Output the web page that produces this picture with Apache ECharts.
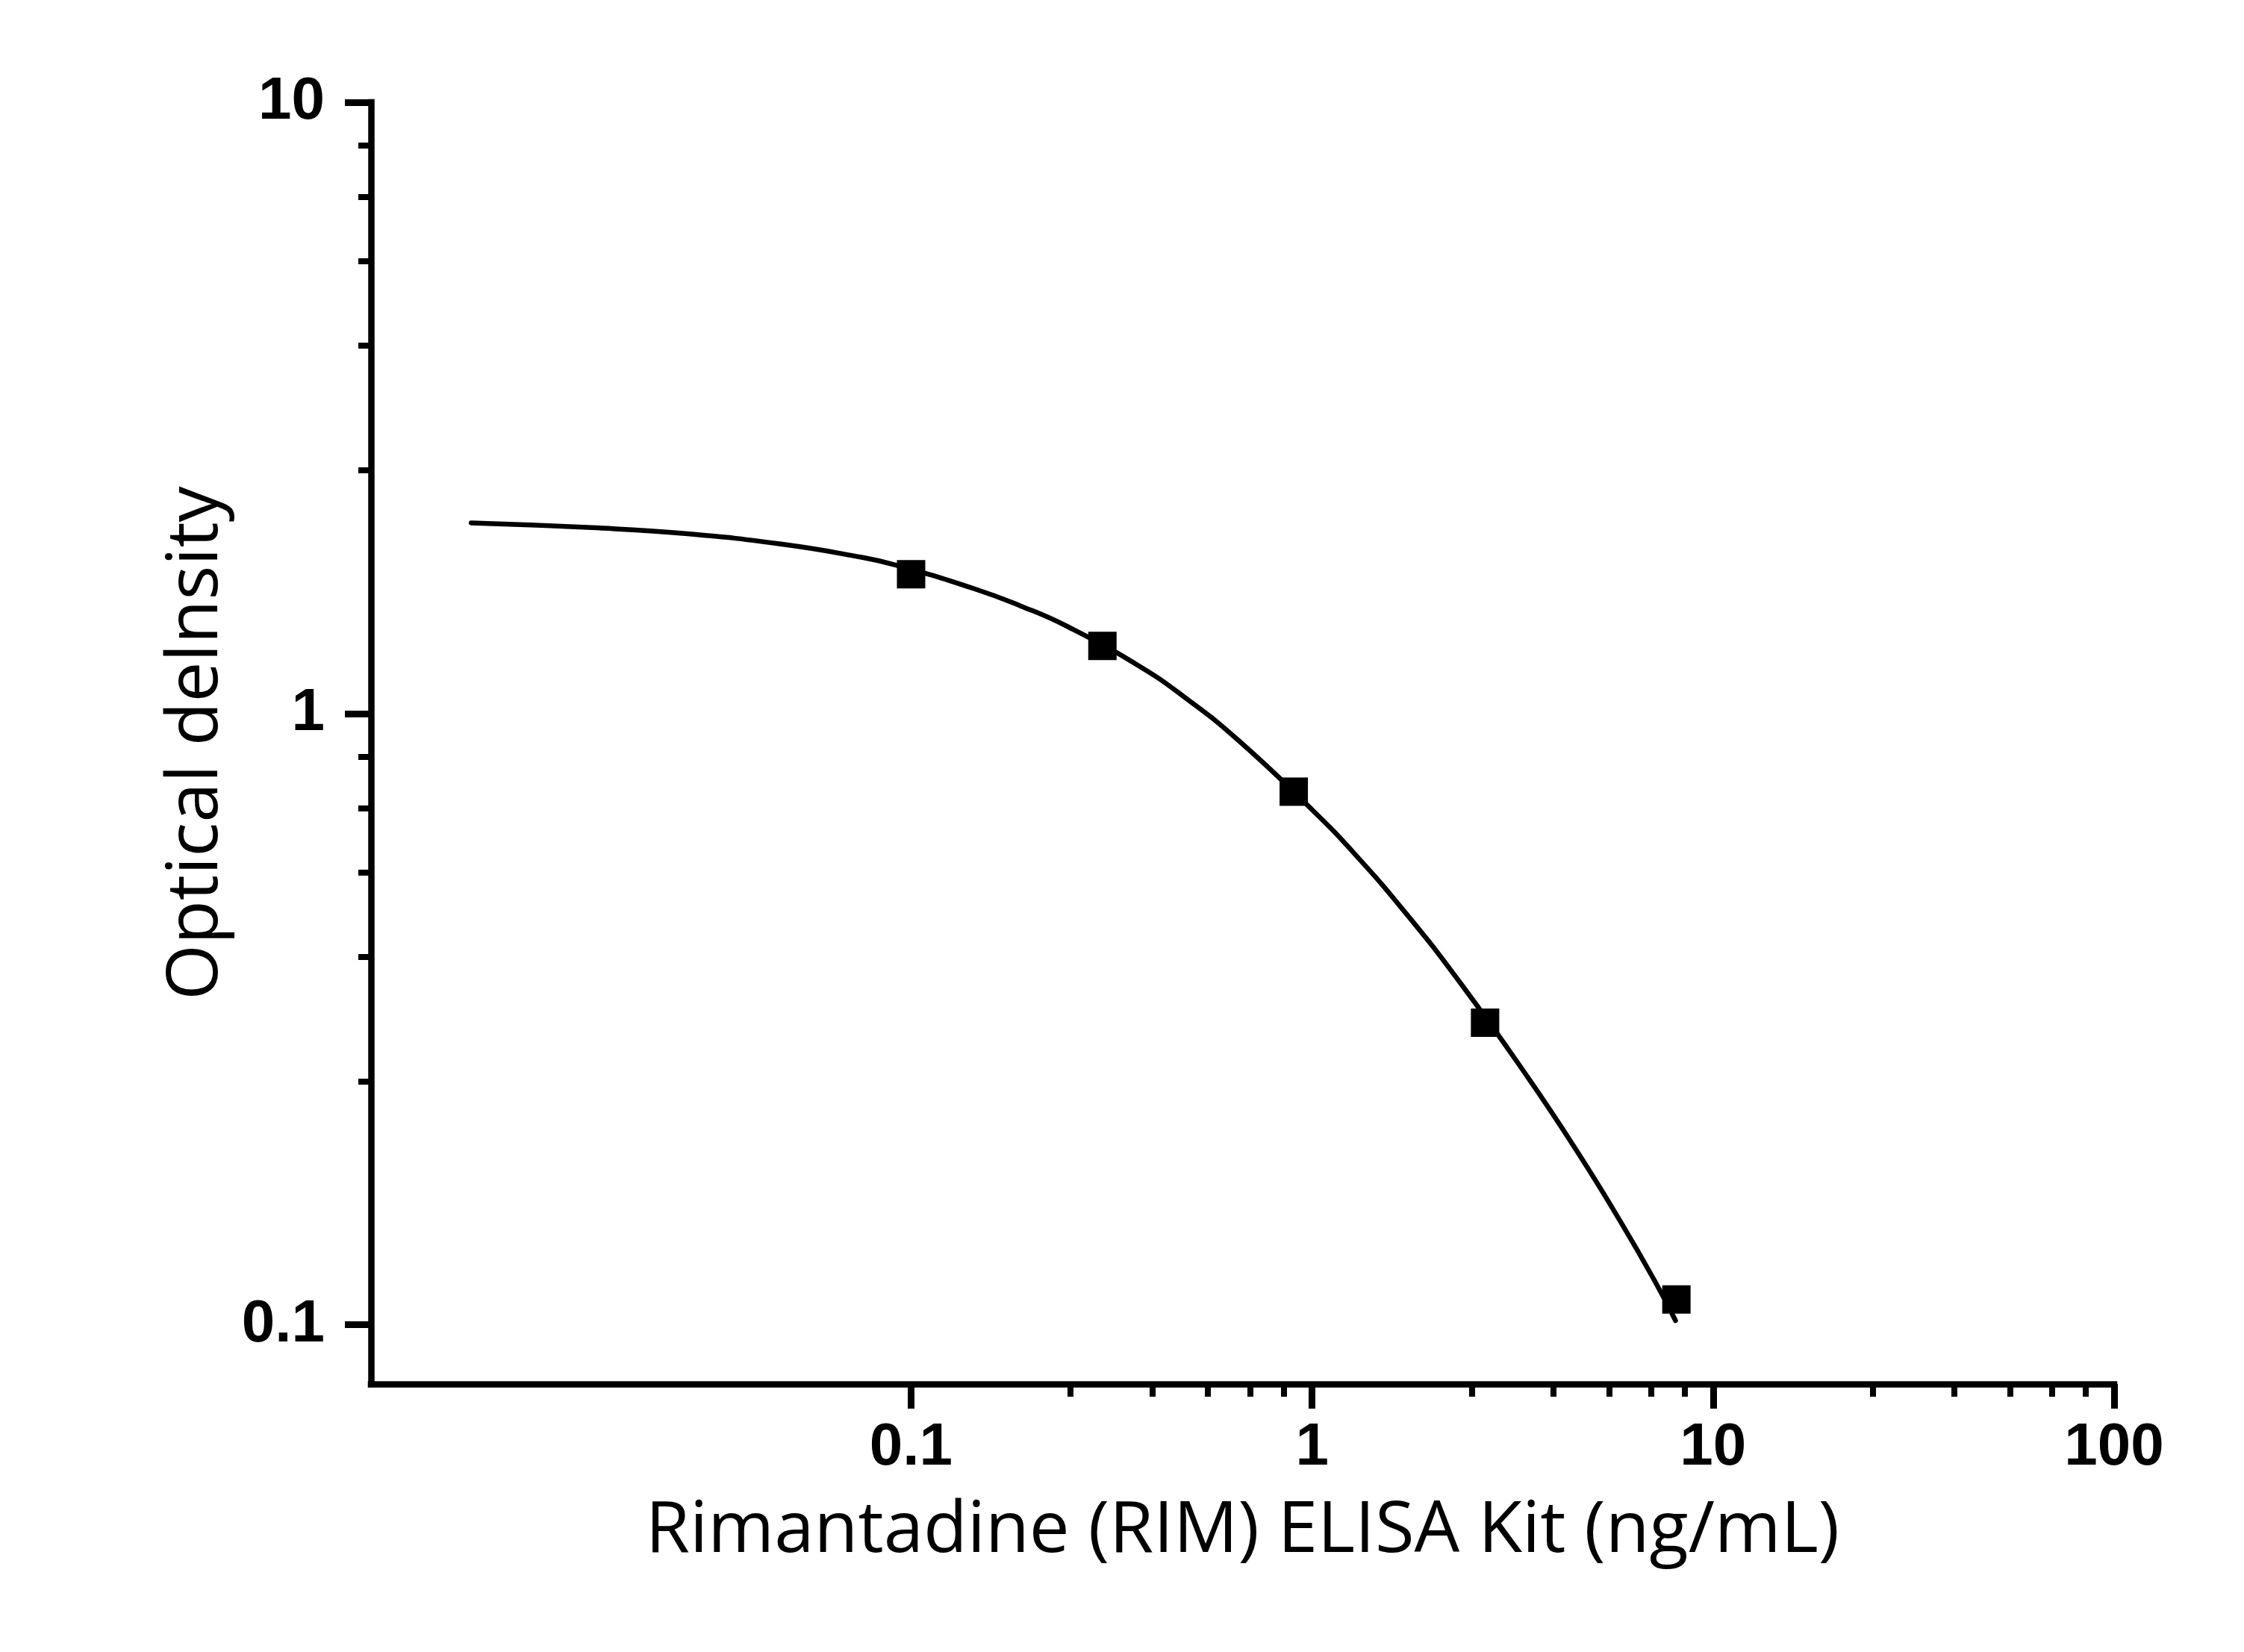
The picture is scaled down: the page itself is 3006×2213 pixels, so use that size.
<!DOCTYPE html>
<html>
<head>
<meta charset="utf-8">
<title>Rimantadine (RIM) ELISA Kit</title>
<script src="https://cdn.jsdelivr.net/npm/echarts@6/dist/echarts.min.js"></script>
<style>
html, body { margin: 0; padding: 0; background: #fff; }
#main { width: 3006px; height: 2213px; }
</style>
</head>
<body>
<div id="main"></div>
<script>
// standard points (ng/mL, OD)
var stdConc = [0.1, 0.3, 0.9, 2.7, 8.1];
var stdOD = [1.69, 1.29, 0.745, 0.312, 0.110];

// fitted curve
var fitConc = [0.008, 0.016, 0.0277, 0.0477, 0.0719, 0.0914, 0.1425, 0.187, 0.246, 0.371, 0.4875, 0.655, 0.98, 1.278, 1.74, 2.358, 3.451, 4.598, 5.894, 7.149, 8.059];
var fitOD = [2.051, 2.014, 1.968, 1.892, 1.811, 1.750, 1.603, 1.501, 1.387, 1.195, 1.056, 0.904, 0.705, 0.589, 0.4655, 0.3604, 0.254, 0.1914, 0.147, 0.118, 0.1016];

// tick values
var xMajor = [0.1, 1, 10, 100];
var xMinor = [0.25, 0.4, 0.55, 0.7, 0.85, 2.5, 4, 5.5, 7, 8.5, 25, 40, 55, 70, 85];
var yMajor = [0.1, 1, 10];
var yMinor = [0.25, 0.4, 0.55, 0.7, 0.85, 2.5, 4, 5.5, 7, 8.5];

var xMin = 0.0045, xMax = 100;
var yMin = 0.08, yMax = 10;

var myChart = echarts.init(document.getElementById('main'));

var lineW = 8.5;
var tickFont = {
    fontFamily: "Arial, 'Liberation Sans', sans-serif",
    fontWeight: 'bold',
    fontSize: 80,
    color: '#000'
};

function pairs(xs, ys) {
    var out = [];
    for (var i = 0; i < xs.length; i++) out.push([xs[i], ys[i]]);
    return out;
}

var option = {
    animation: false,
    backgroundColor: '#fff',
    grid: {
        left: 497,
        right: 174,
        top: 137,
        bottom: 359
    },
    xAxis: [{
        type: 'log',
        position: 'bottom',
        min: xMin,
        max: xMax,
        name: 'Rimantadine (RIM) ELISA Kit (ng/mL)',
        nameLocation: 'middle',
        nameGap: 150,
        nameTextStyle: {
            fontFamily: 'Open Sans',
            fontSize: 96,
            color: '#000'
        },
        axisLine: { onZero: false, lineStyle: { color: '#000', width: lineW, cap: 'square' } },
        axisTick: { customValues: xMajor, length: 33, lineStyle: { color: '#000', width: 9 } },
        axisLabel: Object.assign({ customValues: xMajor, margin: 46 }, tickFont),
        splitLine: { show: false },
        minorTick: { show: false }
    }, {
        type: 'log',
        position: 'bottom',
        min: xMin,
        max: xMax,
        axisLine: { show: false },
        axisTick: { customValues: xMinor, length: 17, lineStyle: { color: '#000', width: 8 } },
        axisLabel: { show: false },
        splitLine: { show: false }
    }],
    yAxis: [{
        type: 'log',
        position: 'left',
        min: yMin,
        max: yMax,
        name: 'Optical delnsity',
        nameLocation: 'middle',
        nameRotate: 90,
        nameGap: 185,
        nameTextStyle: {
            fontFamily: 'Open Sans',
            fontSize: 96,
            color: '#000'
        },
        axisLine: { onZero: false, lineStyle: { color: '#000', width: lineW, cap: 'square' } },
        axisTick: { customValues: yMajor, length: 35, lineStyle: { color: '#000', width: 9 } },
        axisLabel: Object.assign({ customValues: yMajor, margin: 62, padding: [0, 0, 22, 0] }, tickFont),
        splitLine: { show: false }
    }, {
        type: 'log',
        position: 'left',
        min: yMin,
        max: yMax,
        axisLine: { show: false },
        axisTick: { customValues: yMinor, length: 17, lineStyle: { color: '#000', width: 8 } },
        axisLabel: { show: false },
        splitLine: { show: false }
    }],
    series: [{
        name: 'fit',
        type: 'line',
        xAxisIndex: 0,
        yAxisIndex: 0,
        data: pairs(fitConc, fitOD),
        smooth: 0.5,
        showSymbol: false,
        symbol: 'none',
        lineStyle: { color: '#000', width: 6.5, cap: 'round', opacity: 1 },
        z: 2
    }, {
        name: 'standards',
        type: 'scatter',
        xAxisIndex: 0,
        yAxisIndex: 0,
        data: pairs(stdConc, stdOD),
        symbol: 'rect',
        symbolSize: 38,
        itemStyle: { color: '#000', opacity: 1 },
        z: 3
    }]
};

myChart.setOption(option);
</script>
</body>
</html>
